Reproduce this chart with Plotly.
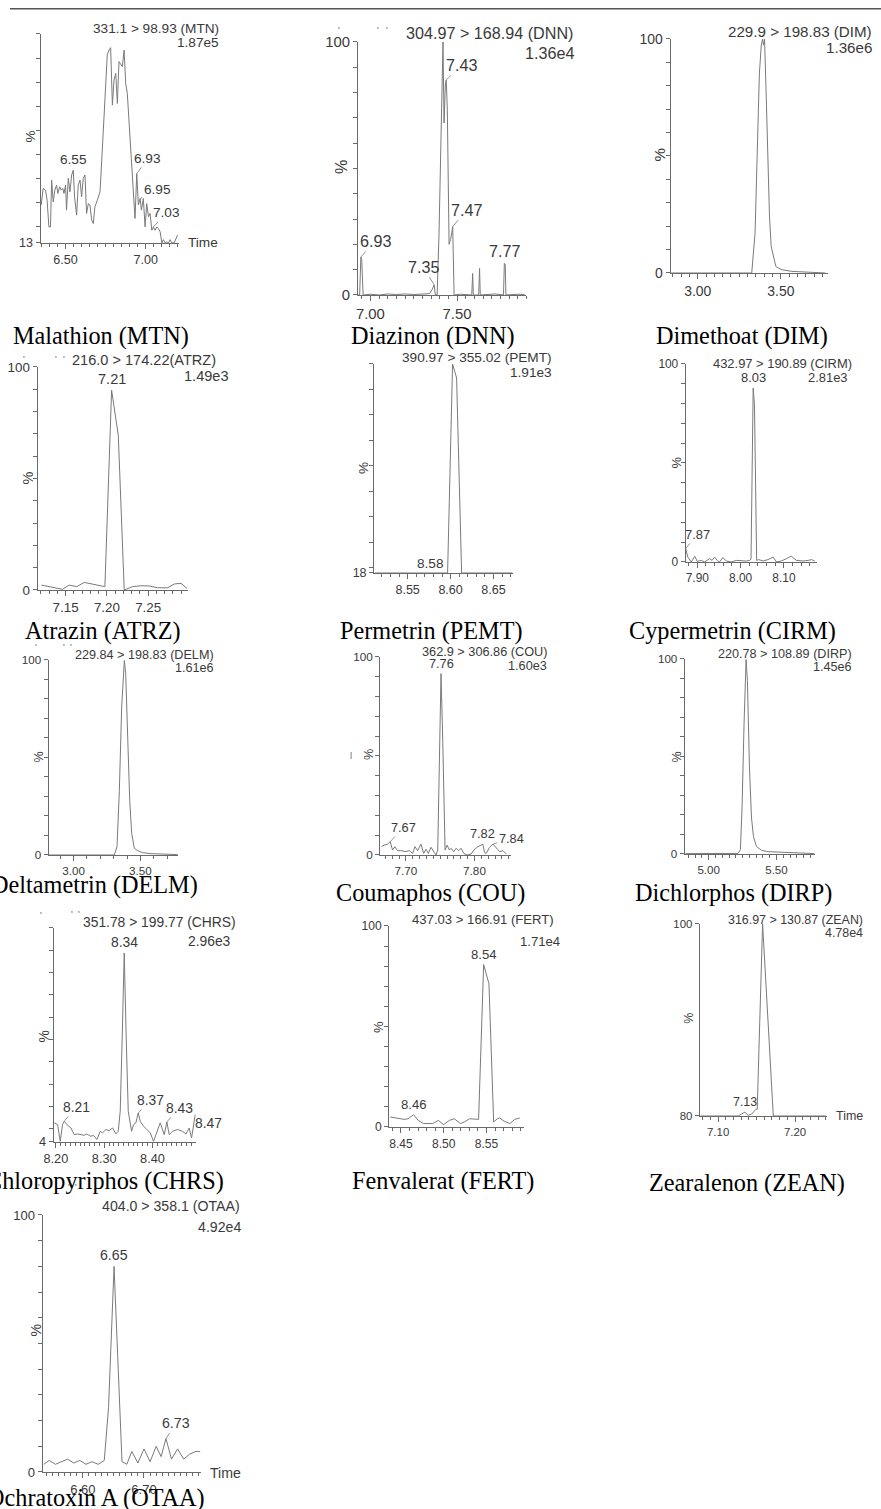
import plotly.graph_objects as go

W, H = 881, 1509
# the photographed page appears slightly scaled and shifted; positions below are given in the
# reference picture's pixels and mapped back onto the page with this measured transform
SX, BX = 0.987, 9.5
SY, BY = 0.9894, 8.0
TXT = '#3a3a3a'
AX = '#6a6a6a'
LN = '#7a7a7a'
SANS = 'Liberation Sans, Arial, sans-serif'
SERIF = 'Liberation Serif, Times New Roman, serif'

# ---------------- data: (retention time [min], relative intensity [%]) ----------------
MTN = [(6.348,28.8),(6.360,35.7),(6.375,35.0),(6.385,30.8),(6.396,19.7),(6.406,19.7),(6.413,39.2),
       (6.423,30.1),(6.433,35.0),(6.444,37.1),(6.452,33.6),(6.463,36.4),(6.473,35.0),(6.483,35.7),
       (6.490,33.6),(6.500,37.1),(6.506,26.7),(6.517,39.9),(6.527,34.3),(6.538,41.3),(6.548,43.3),
       (6.556,32.2),(6.569,24.6),(6.579,37.1),(6.590,39.2),(6.600,32.2),(6.610,39.9),(6.621,41.3),
       (6.631,25.3),(6.642,29.4),(6.652,28.8),(6.663,22.5),(6.673,21.1),(6.683,28.1),(6.698,30.8),
       (6.715,34.3),(6.729,51.7),(6.746,76.7),(6.760,91.3),(6.771,93.3),(6.781,94.3),(6.792,70.4),
       (6.802,80.8),(6.813,83.6),(6.823,71.1),(6.833,88.5),(6.844,87.1),(6.854,86.4),(6.865,93.3),
       (6.875,79.4),(6.885,75.3),(6.906,53.1),(6.927,30.8),(6.933,23.2),(6.944,41.9),(6.954,28.8),
       (6.965,31.5),(6.973,26.7),(6.985,31.5),(6.996,19.7),(7.006,29.4),(7.017,23.9),(7.027,25.3),
       (7.038,18.3),(7.048,19.7),(7.058,18.3),(7.069,19.7),(7.079,19.0),(7.090,17.6),(7.100,13.0),
       (7.110,14.4),(7.121,13.0),(7.131,13.5),(7.142,13.0),(7.152,14.4),(7.163,13.0),(7.177,13.0),
       (7.198,16.3)]
DNN = [(6.925,0),(6.938,0),(6.945,15),(6.950,14),(6.958,0),(7.00,0.3),(7.05,0),(7.10,0.4),(7.15,0.2),
       (7.20,0.4),(7.25,0.2),(7.30,0.3),(7.34,0.5),(7.355,2),(7.368,4),(7.375,0),(7.385,0),(7.396,24),
       (7.410,77),(7.419,100),(7.425,68),(7.433,84),(7.438,85),(7.444,73),(7.454,20),(7.463,22),
       (7.475,27),(7.483,0),(7.52,0.3),(7.585,0),(7.590,8.5),(7.594,0),(7.625,0),(7.630,10.5),
       (7.634,0),(7.68,0.3),(7.72,0.4),(7.768,0),(7.773,12.5),(7.778,12),(7.782,0),(7.85,0.3),(7.89,0.2)]
DIM = [(2.84,0),(3.0,0),(3.2,0.2),(3.325,0),(3.345,17),(3.359,60),(3.371,85),(3.382,97),(3.390,100),
       (3.396,97.4),(3.402,100),(3.410,81),(3.422,48),(3.432,24),(3.442,11.4),(3.456,7.1),(3.470,2.8),
       (3.486,2.1),(3.506,1.4),(3.566,0.7),(3.647,0.3),(3.767,0)]
ATRZ = [(7.1207,2.2),(7.132,1.5),(7.1462,0.3),(7.1543,2.2),(7.1636,1.5),(7.1725,3.4),(7.1826,2.5),
        (7.1907,1.8),(7.1976,1.5),(7.2057,89.6),(7.2138,69.4),(7.221,0),(7.2311,1.5),(7.2413,1.9),
        (7.2514,1.8),(7.2615,1.0),(7.2736,1.0),(7.2817,2.7),(7.2898,3.0),(7.2971,0.7)]
PEMT = [(8.512,18),(8.5965,18),(8.6023,100),(8.607,94.5),(8.6128,18),(8.672,18)]
CIRM = [(7.873,6.8),(7.878,2.5),(7.886,0),(7.894,2.9),(7.900,0.3),(7.909,0.8),(7.917,0),(7.928,1.7),
        (7.934,0.8),(7.940,2.5),(7.946,0.8),(7.951,0),(7.959,2.2),(7.967,0.5),(7.978,0),(7.990,0.8),
        (8.013,0.5),(8.021,0.8),(8.024,1.5),(8.029,87.8),(8.032,79.4),(8.037,0.8),(8.042,1.2),
        (8.052,0.5),(8.063,1.2),(8.075,2.5),(8.083,0),(8.094,0.5),(8.106,1.7),(8.117,2.9),(8.129,0.8),
        (8.144,0.5),(8.156,0.8),(8.164,1.2),(8.171,0.5)]
DELM = [(2.815,0),(3.0,0),(3.2,0),(3.305,0),(3.325,4.3),(3.3425,33),(3.36,76),(3.38,99.7),(3.39,93),
        (3.405,59),(3.42,28),(3.435,11),(3.455,3.4),(3.48,2.2),(3.5175,1.2),(3.58,0.7),(3.705,0.3),(3.78,0.2)]
COU = [(7.6644,4.2),(7.6683,5.0),(7.6732,5.5),(7.6771,6.7),(7.6805,2.5),(7.6839,4.2),(7.6878,2.2),
       (7.6927,2.2),(7.70,1.7),(7.7049,2.2),(7.7098,0.8),(7.7132,4.2),(7.7171,2.2),(7.722,5.5),
       (7.7259,0.8),(7.7293,2.9),(7.7327,0.8),(7.7366,3.9),(7.7415,1.2),(7.7439,0),(7.7464,2.5),
       (7.7488,41),(7.7512,91.6),(7.7537,58),(7.7571,2.5),(7.76,5.0),(7.7634,2.5),(7.7659,3.4),
       (7.7698,1.7),(7.7732,3.4),(7.7766,2.2),(7.7805,3.4),(7.7844,0.8),(7.7893,0),(7.7952,0.5),
       (7.7991,2.5),(7.8049,4.2),(7.8122,5.5),(7.8147,1.2),(7.8171,0.8),(7.822,3.9),(7.8269,5.5),
       (7.8318,3.4),(7.8367,1.7),(7.8415,2.2),(7.8464,0.5)]
DIRP = [(4.83,0.2),(4.95,0.3),(5.03,0.2),(5.10,0.5),(5.15,0.4),(5.2167,0.3),(5.234,2.2),(5.2463,24),
        (5.261,67),(5.2759,99.7),(5.2857,89),(5.3005,45),(5.3153,19),(5.33,9),(5.3522,3.9),(5.3892,1.9),
        (5.4384,1.2),(5.5123,0.9),(5.6108,0.5),(5.7094,0.3),(5.78,0.2)]
CHRS = [(8.1966,12.6),(8.2035,11.8),(8.209,4.3),(8.2138,11.8),(8.2173,13.3),(8.2228,11.8),(8.2311,10.3),
        (8.238,7.3),(8.2449,7.6),(8.2518,7.3),(8.2587,7.0),(8.2642,7.6),(8.2711,6.6),(8.278,6.9),
        (8.2849,5.1),(8.2918,8.8),(8.2966,8.1),(8.3035,9.6),(8.3104,9.1),(8.3173,10.3),(8.3242,7.6),
        (8.3291,8.8),(8.3332,17.8),(8.3373,50.7),(8.3415,88.8),(8.3456,50.7),(8.3498,17.8),(8.3567,8.8),
        (8.3608,11.8),(8.3656,12.6),(8.3705,17.0),(8.3746,13.3),(8.3815,11.1),(8.3884,9.6),(8.3953,8.1),
        (8.4022,4.3),(8.4091,8.1),(8.416,12.6),(8.4243,7.3),(8.4298,13.0),(8.4346,7.3),(8.4415,8.8),
        (8.4519,9.6),(8.4622,8.8),(8.4691,7.6),(8.476,10.3),(8.4809,5.8),(8.485,11.1),(8.4885,16.3)]
FERT = [(8.4375,5.0),(8.4459,4.5),(8.4537,3.8),(8.4584,4.1),(8.4647,6.1),(8.4702,3.3),(8.4765,1.7),
        (8.4871,1.7),(8.4937,3.3),(8.50,1.2),(8.5067,3.3),(8.5125,4.1),(8.5196,1.7),(8.5243,2.5),
        (8.5302,4.1),(8.5408,3.8),(8.5467,80.8),(8.5529,71.3),(8.5584,2.5),(8.5627,4.1),(8.5655,4.5),
        (8.5706,2.9),(8.5773,1.7),(8.5831,3.8),(8.589,4.5)]
ZEAN = [(7.077,80),(7.1261,80),(7.1304,80.2),(7.1348,80.4),(7.1391,80.07),(7.1435,80.2),(7.1491,80.7),
        (7.1508,80.7),(7.1578,100),(7.1717,80),(7.24,80)]
OTAA = [(6.536,3),(6.545,4.5),(6.555,3),(6.565,4),(6.575,5),(6.585,3.5),(6.595,4.5),(6.605,3),(6.615,4),
        (6.625,3),(6.635,4.5),(6.642,25),(6.651,80),(6.657,45),(6.664,4),(6.672,3),(6.680,8),(6.690,3.5),
        (6.700,9),(6.710,4),(6.720,10),(6.728,6),(6.736,13),(6.745,5),(6.755,9),(6.765,5),(6.775,7),
        (6.785,8),(6.792,8)]

# ---------------- layout of each small chromatogram (reference-picture pixels) ----------------
panels = [
    dict(data=MTN, box=(40, 178, 34, 243), xr=[6.344, 7.206], yr=[13, 100], t0=6.5, dt=0.5, mdt=0.05, fs=13.5,
         ylab={13: '13'}, title=('331.1 > 98.93 (MTN)', 220, 29), inten=('1.87e5', 220, 43), pct=(30, 137),
         time=(185, 243), cap=('Malathion (MTN)', 100, 336),
         labels=[(20, '6.55', None, None), (54, '6.93', 11, -15), (56, '6.95', 17, -9), (64, '7.03', 13, -14)]),
    dict(data=DNN, box=(357, 525, 42, 295), xr=[6.929, 7.90], yr=[0, 100], t0=7.0, dt=0.5, mdt=0.05, fs=16,
         ylab={0: '0', 100: '100'}, title=('304.97 > 168.94 (DNN)', 575, 33), inten=('1.36e4', 575, 53),
         pct=(340, 167), time=None, cap=('Diazinon (DNN)', 432, 336),
         labels=[(2, '6.93', 14, -16), (14, '7.35', -11, -18), (22, '7.43', 15, -15), (26, '7.47', 14, -17),
                 (38, '7.77', None, None)]),
    dict(data=DIM, box=(669, 826, 39, 273), xr=[2.837, 3.783], yr=[0, 100], t0=3.0, dt=0.5, mdt=0.05, fs=15,
         ylab={0: '0', 100: '100'}, title=('229.9 > 198.83 (DIM)', 872, 32), inten=('1.36e6', 872, 48),
         pct=(658, 155), time=None, cap=('Dimethoat (DIM)', 740, 336), labels=[]),
    dict(data=ATRZ, box=(37, 187, 367, 590), xr=[7.116, 7.298], yr=[0, 100], t0=7.15, dt=0.05, mdt=0.01, fs=14.4,
         ylab={0: '0', 100: '100'}, title=('216.0 > 174.22(ATRZ)', 217, 360), inten=('1.49e3', 230, 376),
         pct=(27, 478), time=None, cap=('Atrazin (ATRZ)', 102, 631), labels=[(9, '7.21', None, None)]),
    dict(data=PEMT, box=(373, 512, 364, 573), xr=[8.511, 8.673], yr=[18, 100], t0=8.55, dt=0.05, mdt=0.01, fs=13.5,
         ylab={18: '18'}, title=('390.97 > 355.02 (PEMT)', 553, 358), inten=('1.91e3', 553, 373),
         pct=(363, 468), time=None, cap=('Permetrin (PEMT)', 430, 631), labels=[(1, '8.58', 'left', None)]),
    dict(data=CIRM, box=(684, 815, 364, 562), xr=[7.873, 8.176], yr=[0, 100], t0=7.9, dt=0.1, mdt=0.02, fs=12.8,
         ylab={0: '0', 100: '100'}, title=('432.97 > 190.89 (CIRM)', 852, 364), inten=('2.81e3', 848, 378),
         pct=(675, 463), time=None, cap=('Cypermetrin (CIRM)', 731, 631),
         labels=[(19, '8.03', None, None), (0, '7.87', 12, -14)]),
    dict(data=DELM, box=(48, 177, 660, 855), xr=[2.8125, 3.78], yr=[0, 100], t0=3.0, dt=0.5, mdt=0.1, fs=12.5,
         ylab={0: '0', 100: '100'}, title=('229.84 > 198.83 (DELM)', 215, 655), inten=('1.61e6', 215, 668),
         pct=(38, 757), time=None, cap=('Deltametrin (DELM)', 94, 885), labels=[]),
    dict(data=COU, box=(379, 510, 657, 855), xr=[7.6624, 7.8537], yr=[0, 100], t0=7.7, dt=0.1, mdt=0.01, fs=12.6,
         ylab={0: '0', 100: '100'}, title=('362.9 > 306.86 (COU)', 549, 652), inten=('1.60e3', 548, 666),
         pct=(368, 755), time=None, cap=('Coumaphos (COU)', 429, 893),
         labels=[(22, '7.76', None, None), (3, '7.67', 13, -14), (37, '7.82', None, None), (41, '7.84', 18, -6)]),
    dict(data=DIRP, box=(683, 813, 659, 854), xr=[4.8226, 5.783], yr=[0, 100], t0=5.0, dt=0.5, mdt=0.05, fs=12.5,
         ylab={0: '0', 100: '100'}, title=('220.78 > 108.89 (DIRP)', 852, 654), inten=('1.45e6', 852, 667),
         pct=(675, 757), time=None, cap=('Dichlorphos (DIRP)', 732, 893), labels=[]),
    dict(data=CHRS, box=(53, 195, 928, 1142), xr=[8.1952, 8.4897], yr=[4, 100], t0=8.2, dt=0.1, mdt=0.01, fs=13.7,
         ylab={4: '4'}, title=('351.78 > 199.77 (CHRS)', 237, 922), inten=('2.96e3', 232, 941),
         pct=(43, 1037), time=None, cap=('Chloropyriphos (CHRS)', 104, 1181),
         labels=[(24, '8.34', None, None), (4, '8.21', 12, -14), (30, '8.37', 12, -13), (39, '8.43', 12, -14),
                 (47, '8.47', 15, -3)]),
    dict(data=FERT, box=(388, 523, 926, 1127), xr=[8.4362, 8.5943], yr=[0, 100], t0=8.45, dt=0.05, mdt=0.01, fs=13,
         ylab={0: '0', 100: '100'}, title=('437.03 > 166.91 (FERT)', 555, 920), inten=('1.71e4', 561, 942),
         pct=(378, 1027), time=None, cap=('Fenvalerat (FERT)', 442, 1181),
         labels=[(16, '8.54', None, None), (4, '8.46', None, None)]),
    dict(data=ZEAN, box=(698, 825, 924, 1116), xr=[7.076, 7.2413], yr=[80, 100], t0=7.1, dt=0.1, mdt=0.01, fs=12.3,
         ylab={80: '80', 100: '100'}, title=('316.97 > 130.87 (ZEAN)', 863, 920), inten=('4.78e4', 863, 933),
         pct=(687, 1018), time=(832, 1116), cap=('Zearalenon (ZEAN)', 745, 1183),
         labels=[(3, '7.13', None, None)]),
    dict(data=OTAA, box=(42, 200, 1215, 1472), xr=[6.534, 6.793], yr=[0, 100], t0=6.6, dt=0.1, mdt=0.01, fs=14,
         ylab={0: '0', 100: '100'}, title=('404.0 > 358.1 (OTAA)', 241, 1206), inten=('4.92e4', 242, 1227),
         pct=(35, 1330), time=(207, 1473), cap=('Ochratoxin A (OTAA)', 95, 1498),
         labels=[(12, '6.65', None, None), (22, '6.73', 10, -15)]),
]

specks = [(338, 23), (377, 23), (386, 23), (20, 352), (52, 352), (60, 352), (32, 647), (60, 647), (67, 647),
          (37, 915), (68, 914), (75, 914), (35, 1194), (65, 1194), (72, 1194)]


def px(x):
    return ((x - BX) / SX) / W


def py(y):
    return 1 - ((y - BY) / SY) / H


K = 1 / SY   # size compensation for the slight scaling


fig = go.Figure()
lay = {}
ann = []

for i, p in enumerate(panels, start=1):
    xa = 'x' if i == 1 else f'x{i}'
    ya = 'y' if i == 1 else f'y{i}'
    t = [a for a, b in p['data']]
    v = [b for a, b in p['data']]
    fig.add_trace(go.Scatter(x=t, y=v, mode='lines', line=dict(color=LN, width=1),
                             xaxis=xa, yaxis=ya, showlegend=False, hoverinfo='skip'))
    L, R, T, B = p['box']
    fs = p['fs'] * K
    lay['xaxis' if i == 1 else f'xaxis{i}'] = dict(
        domain=[px(L), px(R)], range=p['xr'], anchor=ya, showline=True, linecolor=AX, linewidth=1,
        ticks='outside', ticklen=5, tickwidth=1, tickcolor=AX, tickmode='linear', tick0=p['t0'], dtick=p['dt'],
        tickformat='.2f', tickfont=dict(family=SANS, size=fs * 0.92, color=TXT),
        minor=dict(dtick=p['mdt'], ticks='outside', ticklen=3, tickwidth=1, tickcolor=AX, showgrid=False),
        showgrid=False, zeroline=False, fixedrange=True)
    y0, y1 = p['yr']
    yv = [y0] + [k for k in range(0, 101, 10) if k > y0]
    if y1 < 100 or y0 >= 80:
        yv = [y0, y1]
    lay['yaxis' if i == 1 else f'yaxis{i}'] = dict(
        domain=[py(B), py(T)], range=p['yr'], anchor=xa, showline=True, linecolor=AX, linewidth=1,
        ticks='outside', ticklen=4, tickwidth=1, tickcolor=AX, tickmode='array', tickvals=yv,
        ticktext=[p['ylab'].get(k, '') for k in yv], tickfont=dict(family=SANS, size=fs * 0.92, color=TXT),
        showgrid=False, zeroline=False, fixedrange=True)

    f = dict(family=SANS, size=fs, color=TXT)
    txt, xr_, yy = p['title']
    ann.append(dict(text=txt, x=px(xr_), y=py(yy), xref='paper', yref='paper', xanchor='right',
                    yanchor='middle', showarrow=False, font=f))
    txt, xr_, yy = p['inten']
    ann.append(dict(text=txt, x=px(xr_), y=py(yy), xref='paper', yref='paper', xanchor='right',
                    yanchor='middle', showarrow=False, font=f))
    ann.append(dict(text='%', x=px(p['pct'][0]), y=py(p['pct'][1]), xref='paper', yref='paper',
                    xanchor='center', yanchor='middle', textangle=-90, showarrow=False, font=f))
    if p['time']:
        ann.append(dict(text='Time', x=px(p['time'][0]), y=py(p['time'][1]), xref='paper', yref='paper',
                        xanchor='left', yanchor='middle', showarrow=False, font=f))
    ctxt, cx, cy = p['cap']
    ann.append(dict(text=ctxt, x=px(cx), y=py(cy), xref='paper', yref='paper', xanchor='center',
                    yanchor='middle', showarrow=False, font=dict(family=SERIF, size=24 * K, color='#000')))
    for idx, lt, dx, dy in p['labels']:
        xx, yy2 = p['data'][idx]
        if dx is None:
            ann.append(dict(text=lt, x=xx, y=yy2, xref=xa, yref=ya, xanchor='center', yanchor='bottom',
                            yshift=1, showarrow=False, font=f))
        elif dx == 'left':
            ann.append(dict(text=lt, x=xx, y=yy2, xref=xa, yref=ya, xanchor='right', yanchor='bottom',
                            xshift=-2, yshift=0, showarrow=False, font=f))
        else:
            ann.append(dict(text=lt, x=xx, y=yy2, xref=xa, yref=ya, ax=dx * K, ay=dy * K, showarrow=True,
                            arrowhead=0, arrowwidth=0.8, arrowcolor=LN, standoff=0, font=f))

ann.append(dict(text='|', x=px(350), y=py(755), xref='paper', yref='paper', showarrow=False,
                font=dict(family=SANS, size=8, color=TXT)))
for sx, sy in specks:
    ann.append(dict(text="'", x=px(sx), y=py(sy), xref='paper', yref='paper', showarrow=False,
                    font=dict(family=SANS, size=9, color='#555555')))

fig.update_layout(width=W, height=H, margin=dict(l=0, r=0, t=0, b=0), paper_bgcolor='white',
                  plot_bgcolor='white', showlegend=False, annotations=ann, **lay)
fig.add_shape(type='line', xref='paper', yref='paper', x0=0, x1=1, y0=1 - 0.8 / H, y1=1 - 0.8 / H,
              line=dict(color='#555555', width=1.5))

fig.write_html('out.html', config={'displayModeBar': False},
               post_script="document.body.style.margin='0';document.body.style.overflow='hidden';")
